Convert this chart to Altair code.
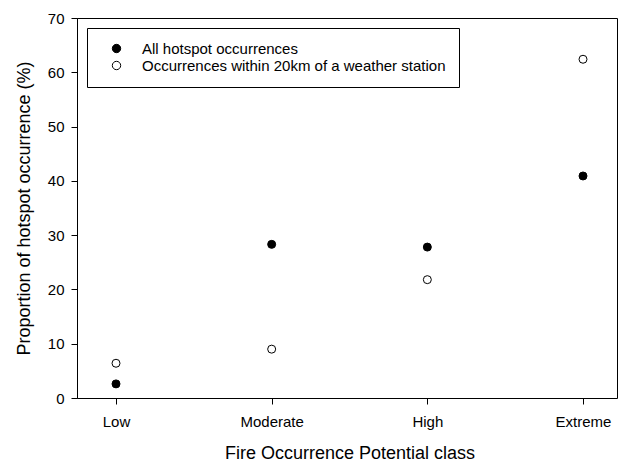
import altair as alt
import pandas as pd

# Fire Occurrence Potential classes and the share of hotspots in each (%)
classes = ["Low", "Moderate", "High", "Extreme"]
all_hotspots = [2.6, 28.3, 27.8, 40.9]
near_station = [6.4, 9.0, 21.8, 62.4]

series_names = [
    "All hotspot occurrences",
    "Occurrences within 20km of a weather station",
]

rows = []
for c, a, n in zip(classes, all_hotspots, near_station):
    rows.append({"cls": c, "value": a, "series": series_names[0]})
    rows.append({"cls": c, "value": n, "series": series_names[1]})
df = pd.DataFrame(rows)

FONT = "Liberation Sans"

chart = (
    alt.Chart(df)
    .mark_point(shape="circle", filled=True, size=64, stroke="black", strokeWidth=1, opacity=1)
    .encode(
        x=alt.X(
            "cls:N",
            sort=classes,
            scale=alt.Scale(type="point", padding=0, range=[39, 506]),
            axis=alt.Axis(
                title="Fire Occurrence Potential class",
                labelAngle=0,
                labelFontSize=15,
                titleFontSize=18,
                labelPadding=10,
                titlePadding=15,
                tickSize=6,
                domainColor="black",
                tickColor="black",
                labelColor="black",
                titleColor="black",
                titleFontWeight="normal",
                grid=False,
            ),
        ),
        y=alt.Y(
            "value:Q",
            scale=alt.Scale(domain=[0, 70], nice=False),
            axis=alt.Axis(
                title="Proportion of hotspot occurrence (%)",
                values=[0, 10, 20, 30, 40, 50, 60, 70],
                labelFontSize=15,
                titleFontSize=18,
                labelPadding=7,
                titlePadding=14,
                tickSize=6,
                domainColor="black",
                tickColor="black",
                labelColor="black",
                titleColor="black",
                titleFontWeight="normal",
                grid=False,
            ),
        ),
        fill=alt.Fill(
            "series:N",
            sort=series_names,
            scale=alt.Scale(domain=series_names, range=["black", "white"]),
            legend=alt.Legend(
                title=None,
                orient="none",
                legendX=10,
                legendY=10,
                direction="vertical",
                strokeColor="black",
                fillColor="white",
                padding=13,
                labelFontSize=15,
                labelColor="black",
                labelLimit=400,
                symbolType="circle",
                symbolSize=70,
                symbolStrokeColor="black",
                symbolStrokeWidth=1,
                symbolOffset=9,
                labelOffset=18,
                rowPadding=1,
            ),
        ),
    )
    .properties(width=540, height=380)
    .configure(font=FONT, padding={"left": 77, "top": 18, "right": 1, "bottom": 65}, autosize=alt.AutoSizeParams(type="none"))
    .configure_view(stroke="black", strokeWidth=1)
)

chart.save("out.html", embed_options={"renderer": "svg", "actions": False})
